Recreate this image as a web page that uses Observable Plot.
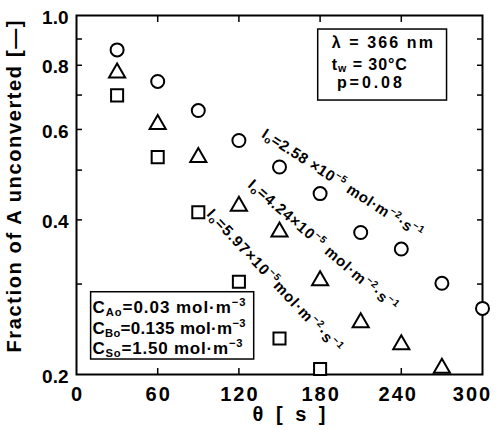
<!DOCTYPE html>
<html><head><meta charset="utf-8">
<script src="https://cdn.jsdelivr.net/npm/d3@7"></script>
<script src="https://cdn.jsdelivr.net/npm/@observablehq/plot@0.6"></script>
<style>body{margin:0;background:#fff}</style>
</head><body><div id="chart"></div>
<script>
// ---- data ----
const times = [30, 60, 90, 120, 150, 180, 210, 240, 270, 300];
const fracI258 = [0.857, 0.744, 0.653, 0.571, 0.507, 0.450, 0.378, 0.351, 0.301, 0.269];
const fracI424 = [0.781, 0.620, 0.535, 0.430, 0.383, 0.308, 0.255, 0.231, 0.208];
const fracI597 = [0.699, 0.530, 0.414, 0.303, 0.235, 0.205];
const xTickLabels = [0, 60, 120, 180, 240, 300];
const xInnerTicks = [60, 120, 180, 240];
const yInnerTicks = [0.3, 0.4, 0.5, 0.6, 0.7, 0.8, 0.9];
const yTickLabels = [0.2, 0.4, 0.6, 0.8, 1.0];
const seriesLabels = [
  "I_{o}=2.58 ×10^{−5} mol·m^{−2}·s^{−1}",
  "I_{o}=4.24×10^{−5} mol·m^{−2}·s^{−1}",
  "I_{o}=5.97×10^{−5}mol·m^{−2}·s^{−1}"
];
const conditionLines = ["λ = 366 nm", "t_{w} = 30°C", "p=0.08"];
const concentrationLines = ["C_{Ao}=0.03 mol·m^{−3}", "C_{Bo}=0.135 mol·m^{−3}", "C_{So}=1.50 mol·m^{−3}"];
const xLabel = "θ [ s ]";
const yLabel = "Fraction of A unconverted [—]";

// ---- annotation placement (data units) ----
const seriesLabelX = [138, 128.4, 98.2];
const seriesLabelY = [0.592, 0.473, 0.4155];
const seriesLabelAngle = [33, 41, 47];
const condX = [188.7, 188.7, 192.4], condY = [0.883, 0.803, 0.740];
const concX = [11.8, 11.8, 11.8], concY = [0.2704, 0.2455, 0.2244];
const boxes = [
  {x1: 178.6, x2: 273.8, y1: 0.683, y2: 0.939},
  {x1: 10.8, x2: 131.3, y1: 0.2139, y2: 0.2892}
];
const textLengths = new Map([
  [seriesLabels[0], 188], [seriesLabels[1], 192], [seriesLabels[2], 190],
  [conditionLines[0], 101], [conditionLines[1], 75], [conditionLines[2], 65],
  [concentrationLines[0], 153], [concentrationLines[1], 153], [concentrationLines[2], 150],
  [xLabel, 73], [yLabel, 332]
]);
// small horizontal nudges of the right-most x tick labels (as typeset in the reference)
const xLabelNudge = new Map([["240", -4], ["300", -11]]);

const circ = fracI258.map((v, i) => ({t: times[i], v}));
const tri = fracI424.map((v, i) => ({t: times[i], v}));
const sq = fracI597.map((v, i) => ({t: times[i], v}));
const serLab = seriesLabels.map((s, i) => ({s, x: seriesLabelX[i], y: seriesLabelY[i], a: seriesLabelAngle[i]}));
const cond = conditionLines.map((s, i) => ({s, x: condX[i], y: condY[i]}));
const conc = concentrationLines.map((s, i) => ({s, x: concX[i], y: concY[i]}));

const blank = () => "";
const svg = Plot.plot({
  width: 499, height: 430,
  marginLeft: 76, marginRight: 17, marginTop: 15, marginBottom: 56,
  style: {fontFamily: "'Liberation Sans', Arial, sans-serif", fontWeight: "bold", background: "white", color: "black"},
  x: {domain: [0, 300]},
  y: {type: "log", domain: [0.2, 1.0]},
  marks: [
    Plot.axisY(yInnerTicks, {anchor: "left", tickSize: -6, tickFormat: blank, label: null, strokeWidth: 1.5}),
    Plot.axisY(yInnerTicks, {anchor: "right", tickSize: -6, tickFormat: blank, label: null, strokeWidth: 1.5}),
    Plot.axisY(yTickLabels, {anchor: "left", tickSize: 0, tickPadding: 8, dy: 2, tickFormat: d => d.toFixed(1), label: null, fontSize: 19}),
    Plot.axisX(xInnerTicks, {anchor: "top", tickSize: -6, tickFormat: blank, label: null, strokeWidth: 1.5}),
    Plot.axisX(xInnerTicks, {anchor: "bottom", tickSize: -6, tickFormat: blank, label: null, strokeWidth: 1.5}),
    Plot.axisX(xTickLabels, {anchor: "bottom", tickSize: 0, tickPadding: 12, dx: 1, tickFormat: d => String(d), label: null, fontSize: 20}),
    Plot.text([yLabel], {text: d => d, frameAnchor: "bottom-left", textAnchor: "start", rotate: -90, dx: -56, dy: -22, fontSize: 20}),
    Plot.text([xLabel], {text: d => d, frameAnchor: "bottom", textAnchor: "start", dx: -27, dy: 46, fontSize: 20}),
    Plot.frame({stroke: "black", strokeWidth: 2}),
    Plot.rect(boxes, {x1: "x1", x2: "x2", y1: "y1", y2: "y2", fill: "white", stroke: "black", strokeWidth: 1.5}),
    Plot.text(cond, {x: "x", y: "y", text: "s", textAnchor: "start", fontSize: 16}),
    Plot.text(conc, {x: "x", y: "y", text: "s", textAnchor: "start", fontSize: 17}),
    ...serLab.map(d => Plot.text([d], {x: "x", y: "y", text: "s", rotate: d.a, textAnchor: "start", fontSize: 15})),
    Plot.dot(circ, {x: "t", y: "v", symbol: "circle", r: 6.5, fill: "white", stroke: "black", strokeWidth: 2}),
    Plot.dot(tri, {x: "t", y: "v", symbol: "triangle", r: 6, dy: 2.3, fill: "white", stroke: "black", strokeWidth: 2}),
    Plot.dot(sq, {x: "t", y: "v", symbol: "square", r: 6.8, fill: "white", stroke: "black", strokeWidth: 2})
  ]
});
document.getElementById("chart").appendChild(svg);

// wider digit spacing on the x tick labels, as in the reference
d3.select(svg).selectAll('g[aria-label="x-axis tick label"] text')
  .style("letter-spacing", "2px")
  .each(function () {
    const n = xLabelNudge.get(this.textContent);
    if (n) this.setAttribute("dx", n);
  });

// rich text: _{sub} and ^{sup}
const NS = "http://www.w3.org/2000/svg";
d3.select(svg).selectAll("text").each(function () {
  const s = this.textContent;
  const fs = parseFloat(getComputedStyle(this).fontSize) || 12;
  if (/[_^]\{/.test(s)) {
    this.textContent = "";
    let shift = 0;
    const add = (str, kind) => {
      if (!str) return;
      const t = document.createElementNS(NS, "tspan");
      t.textContent = str;
      const target = kind === "^" ? -fs * 0.42 : kind === "_" ? fs * 0.18 : 0;
      if (target !== shift) { t.setAttribute("dy", (target - shift).toFixed(2)); shift = target; }
      if (kind) t.setAttribute("font-size", (fs * 0.66).toFixed(1));
      this.appendChild(t);
    };
    const re = /([_^])\{([^}]*)\}/g;
    let last = 0, m;
    while ((m = re.exec(s))) {
      add(s.slice(last, m.index), null);
      add(m[2], m[1]);
      last = re.lastIndex;
    }
    add(s.slice(last), null);
  }
  if (textLengths.has(s)) {
    this.setAttribute("textLength", textLengths.get(s));
    this.setAttribute("lengthAdjust", "spacing");
  }
});
</script>
</body></html>
